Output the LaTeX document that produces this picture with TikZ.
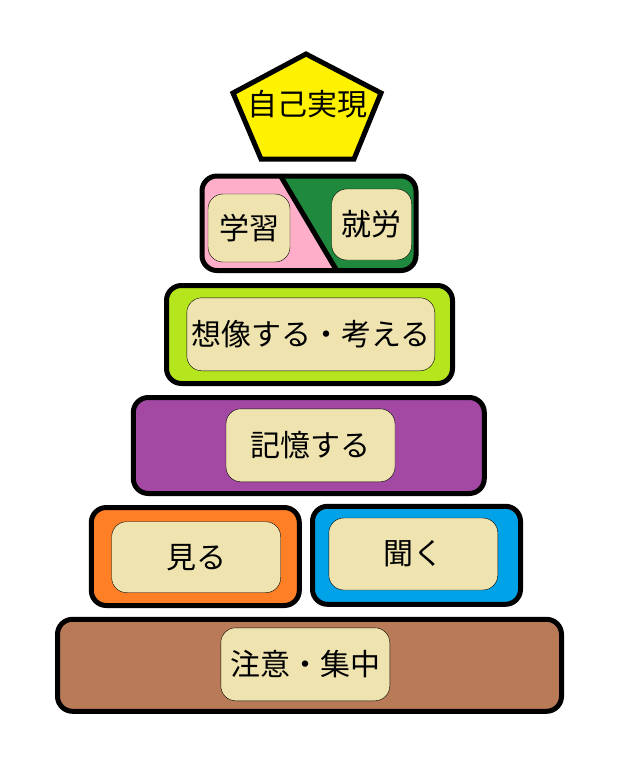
\documentclass[tikz,border=0pt]{standalone}
\usepackage{fontspec}
\newfontfamily\jpfont{Noto Sans CJK JP}
\definecolor{selfyellow}{RGB}{255,242,0}
\definecolor{studypink}{RGB}{255,174,201}
\definecolor{workgreen}{RGB}{31,138,61}
\definecolor{thinklime}{RGB}{181,230,29}
\definecolor{memopurple}{RGB}{163,73,164}
\definecolor{seeorange}{RGB}{255,127,39}
\definecolor{hearblue}{RGB}{0,162,232}
\definecolor{focusbrown}{RGB}{185,122,87}
\definecolor{tagtan}{RGB}{239,228,176}

\tikzset{
  layer/.style={draw, line width=5pt, rounded corners=15pt, inner sep=0pt},
  tag/.style={draw, thin, fill=tagtan, rounded corners=15pt, inner sep=0pt,
    font=\jpfont\fontsize{30}{32}\selectfont}
}

\begin{document}
\begin{tikzpicture}[x=1pt, y=-1pt]
    \useasboundingbox (0,0) rectangle (620,768);
    % top: pentagon
    \filldraw[fill=selfyellow, line width=5pt, line join=miter]
      (306,54) -- (381,93) -- (354,159) -- (261,159) -- (233,93) -- cycle;
    \node[font=\jpfont\fontsize{30}{32}\selectfont] (self) at (307,104) {自己実現};
    % study / work
    \begin{scope}
      \clip[rounded corners=15pt] (202,176) rectangle (416,270.5);
      \fill[studypink] (190,170) rectangle (420,280);
      \fill[workgreen] (280,170) -- (420,170) -- (420,280) -- (339,280) -- cycle;
    \end{scope}
    \draw[line width=5pt] (280,175) -- (337,271);
    \draw[line width=5pt, rounded corners=15pt] (202,176) rectangle (416,270.5);
    \node[tag, minimum width=82pt, minimum height=68pt] (study) at (249,228) {学習};
    \node[tag, minimum width=80pt, minimum height=71pt] (work) at (371.7,224.5) {就労};
    % think
    \node[layer, fill=thinklime, minimum width=286pt, minimum height=98pt] (think) at (309.5,334.5) {};
    \node[tag, minimum width=248pt, minimum height=73pt] (thinktxt) at (310.8,334.3) {想像する・考える};
    % memory
    \node[layer, fill=memopurple, minimum width=351pt, minimum height=96pt] (memo) at (308.8,445.5) {};
    \node[tag, minimum width=169pt, minimum height=73pt] (memotxt) at (310.5,445.3) {記憶する};
    % see / hear
    \node[layer, fill=seeorange, minimum width=208pt, minimum height=98pt] (see) at (195.3,556.5) {};
    \node[tag, minimum width=169pt, minimum height=71pt] (seetxt) at (196.2,557.2) {見る};
    \node[layer, fill=hearblue, minimum width=208pt, minimum height=98pt] (hear) at (416.5,555.3) {};
    \node[tag, minimum width=169pt, minimum height=72pt] (heartxt) at (413.3,554) {聞く};
    % attention
    \node[layer, fill=focusbrown, minimum width=504pt, minimum height=92pt] (focus) at (309.5,665.3) {};
    \node[tag, minimum width=169pt, minimum height=73pt] (focustxt) at (305.3,664.3) {注意・集中};
  \end{tikzpicture}
\end{document}
